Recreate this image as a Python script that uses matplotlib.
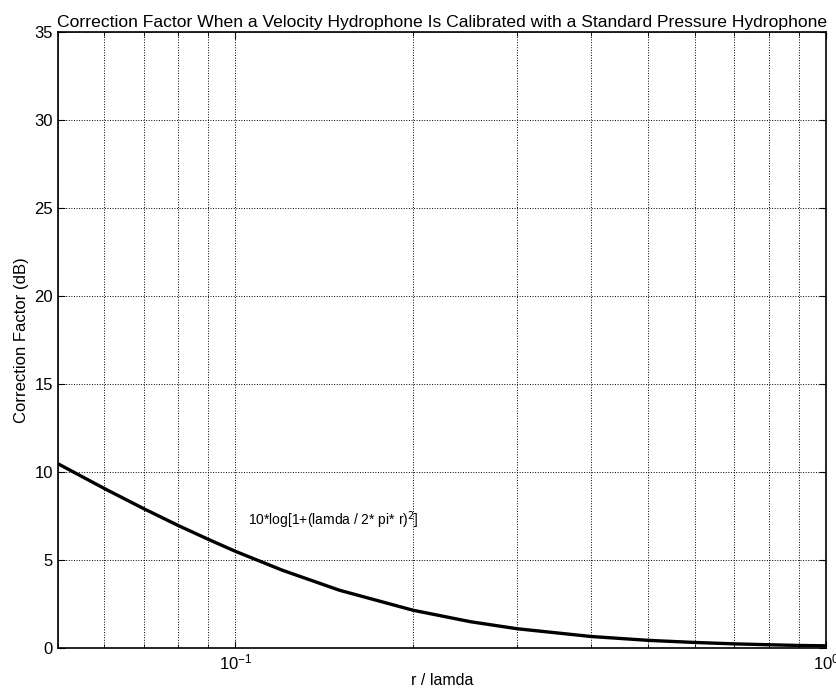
import matplotlib
matplotlib.use('Agg')
import matplotlib.pyplot as plt
import numpy as np

plt.rcParams['font.family'] = ['Liberation Sans', 'DejaVu Sans']

# values (r/lamda, dB)
r = [0.05, 0.06, 0.07, 0.08, 0.09, 0.1, 0.12, 0.15, 0.2, 0.25, 0.3, 0.4, 0.5, 0.6, 0.7, 0.8, 0.9, 1.0]
cf = [10.47, 9.05, 7.90, 6.95, 6.16, 5.48, 4.41, 3.27, 2.13, 1.48, 1.08, 0.64, 0.42, 0.30, 0.22, 0.17, 0.13, 0.11]

fig = plt.figure(figsize=(8.36, 6.98), dpi=100)
ax = fig.add_axes([0.069, 0.072, 0.919, 0.882])

ax.semilogx(r, cf, color='black', lw=2.4)
ax.set_xlim(0.05, 1)
ax.set_ylim(0, 35)
ax.set_yticks(range(0, 36, 5))
ax.grid(True, which='both', linestyle=':', color='black', lw=0.7)
ax.tick_params(which='both', direction='in', labelsize=12, top=True, right=True)
ax.tick_params(which='major', length=5)
ax.tick_params(which='minor', length=3)
for s in ax.spines.values():
    s.set_linewidth(1.2)

ax.text(0.105, 7.0, '10*log[1+(lamda / 2* pi* r)$^2$]', fontsize=10)
ax.set_title('Correction Factor When a Velocity Hydrophone Is Calibrated with a Standard Pressure Hydrophone',
             fontsize=12.6, pad=4)
ax.set_xlabel('r / lamda', fontsize=11.5, labelpad=0)
ax.set_ylabel('Correction Factor (dB)', fontsize=12, labelpad=4)

fig.savefig('out.png', dpi=100)
